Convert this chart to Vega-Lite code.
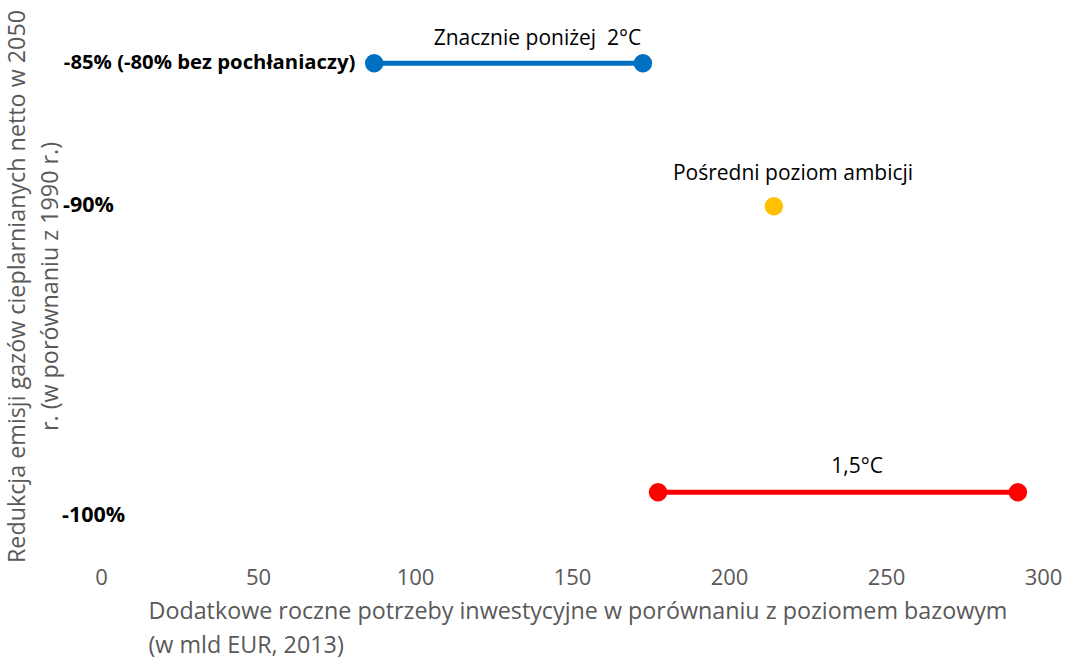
{
  "$schema": "https://vega.github.io/schema/vega-lite/v6.json",
  "width": 942,
  "height": 552,
  "autosize": {"type": "none"},
  "padding": {"left": 101, "top": 6, "right": 29, "bottom": 101},
  "background": "white",
  "config": {"view": {"stroke": null}, "font": "Open Sans"},
  "datasets": {
    "pts": [
      {"series": "Znacznie poniżej 2°C", "x": 87, "y": -85},
      {"series": "Znacznie poniżej 2°C", "x": 172.6, "y": -85},
      {"series": "Pośredni poziom ambicji", "x": 214.3, "y": -90},
      {"series": "1,5°C", "x": 177.4, "y": -100},
      {"series": "1,5°C", "x": 292, "y": -100}
    ],
    "labels": [
      {"text": "Znacznie poniżej  2°C", "x": 139, "y": -85},
      {"text": "Pośredni poziom ambicji", "x": 220.4, "y": -90},
      {"text": "1,5°C", "x": 240.8, "y": -100}
    ],
    "ylabels": [
      {"text": "-85% (-80% bez pochłaniaczy)", "x": 81, "y": -85, "align": "right"},
      {"text": "-90%", "x": -12.1, "y": -90, "align": "left"},
      {"text": "-100%", "x": -12.4, "y": -100.84, "align": "left"}
    ]
  },
  "encoding": {
    "x": {
      "field": "x", "type": "quantitative",
      "scale": {"domain": [0, 300], "nice": false, "zero": false},
      "axis": {
        "values": [0, 50, 100, 150, 200, 250, 300],
        "domain": false, "ticks": false, "grid": false, "labelFlush": false,
        "labelFont": "Open Sans", "labelFontSize": 22, "labelColor": "#595959", "labelPadding": 9,
        "title": ["Dodatkowe roczne potrzeby inwestycyjne w porównaniu z poziomem bazowym", "(w mld EUR, 2013)"],
        "titleFont": "Open Sans", "titleFontSize": 23.3, "titleFontWeight": "normal", "titleColor": "#595959",
        "titleAlign": "left", "titleAnchor": "start", "titleX": 47, "titleY": 42, "titleBaseline": "top", "titleLineHeight": 34
      }
    },
    "y": {
      "field": "y", "type": "quantitative",
      "scale": {"domain": [-102.3, -83], "nice": false, "zero": false},
      "axis": {
        "domain": false, "ticks": false, "labels": false, "grid": false,
        "title": ["Redukcja emisji gazów cieplarnianych netto w 2050", "r. (w porównaniu z 1990 r.)"],
        "titleFont": "Open Sans", "titleFontSize": 23.3, "titleFontWeight": "normal", "titleColor": "#595959",
        "titleX": -84, "titleY": 280, "titleAngle": -90, "titleAlign": "center", "titleBaseline": "middle", "titleLineHeight": 33
      }
    }
  },
  "layer": [
    {
      "data": {"name": "pts"},
      "mark": {"type": "line", "strokeWidth": 5},
      "encoding": {
        "detail": {"field": "series"},
        "color": {"field": "series", "type": "nominal", "legend": null,
          "scale": {"domain": ["Znacznie poniżej 2°C", "Pośredni poziom ambicji", "1,5°C"], "range": ["#0070C0", "#FFC000", "#FF0000"]}}
      }
    },
    {
      "data": {"name": "pts"},
      "mark": {"type": "point", "filled": true, "opacity": 1, "size": 340, "shape": "circle"},
      "encoding": {
        "color": {"field": "series", "type": "nominal", "legend": null,
          "scale": {"domain": ["Znacznie poniżej 2°C", "Pośredni poziom ambicji", "1,5°C"], "range": ["#0070C0", "#FFC000", "#FF0000"]}}
      }
    },
    {
      "data": {"name": "labels"},
      "transform": [{"filter": "datum.text == 'Znacznie poniżej  2°C'"}],
      "mark": {"type": "text", "font": "Open Sans", "fontSize": 21, "color": "black", "dy": -24, "align": "center", "baseline": "middle"},
      "encoding": {"text": {"value": "Znacznie poniżej\u00a0 2°C"}}
    },
    {
      "data": {"name": "labels"},
      "transform": [{"filter": "datum.text == 'Pośredni poziom ambicji'"}],
      "mark": {"type": "text", "font": "Open Sans", "fontSize": 21, "color": "black", "dy": -32, "align": "center", "baseline": "middle"},
      "encoding": {"text": {"field": "text"}}
    },
    {
      "data": {"name": "labels"},
      "transform": [{"filter": "datum.text == '1,5°C'"}],
      "mark": {"type": "text", "font": "Open Sans", "fontSize": 21, "color": "black", "dy": -25, "align": "center", "baseline": "middle"},
      "encoding": {"text": {"field": "text"}}
    },
    {
      "data": {"name": "ylabels"},
      "transform": [{"filter": "datum.align == 'right'"}],
      "mark": {"type": "text", "font": "Open Sans", "fontSize": 20.3, "fontWeight": "bold", "color": "black", "align": "right", "baseline": "middle"},
      "encoding": {"text": {"field": "text"}}
    },
    {
      "data": {"name": "ylabels"},
      "transform": [{"filter": "datum.align == 'left'"}],
      "mark": {"type": "text", "font": "Open Sans", "fontSize": 21.5, "fontWeight": "bold", "color": "black", "align": "left", "baseline": "middle"},
      "encoding": {"text": {"field": "text"}}
    }
  ]
}
